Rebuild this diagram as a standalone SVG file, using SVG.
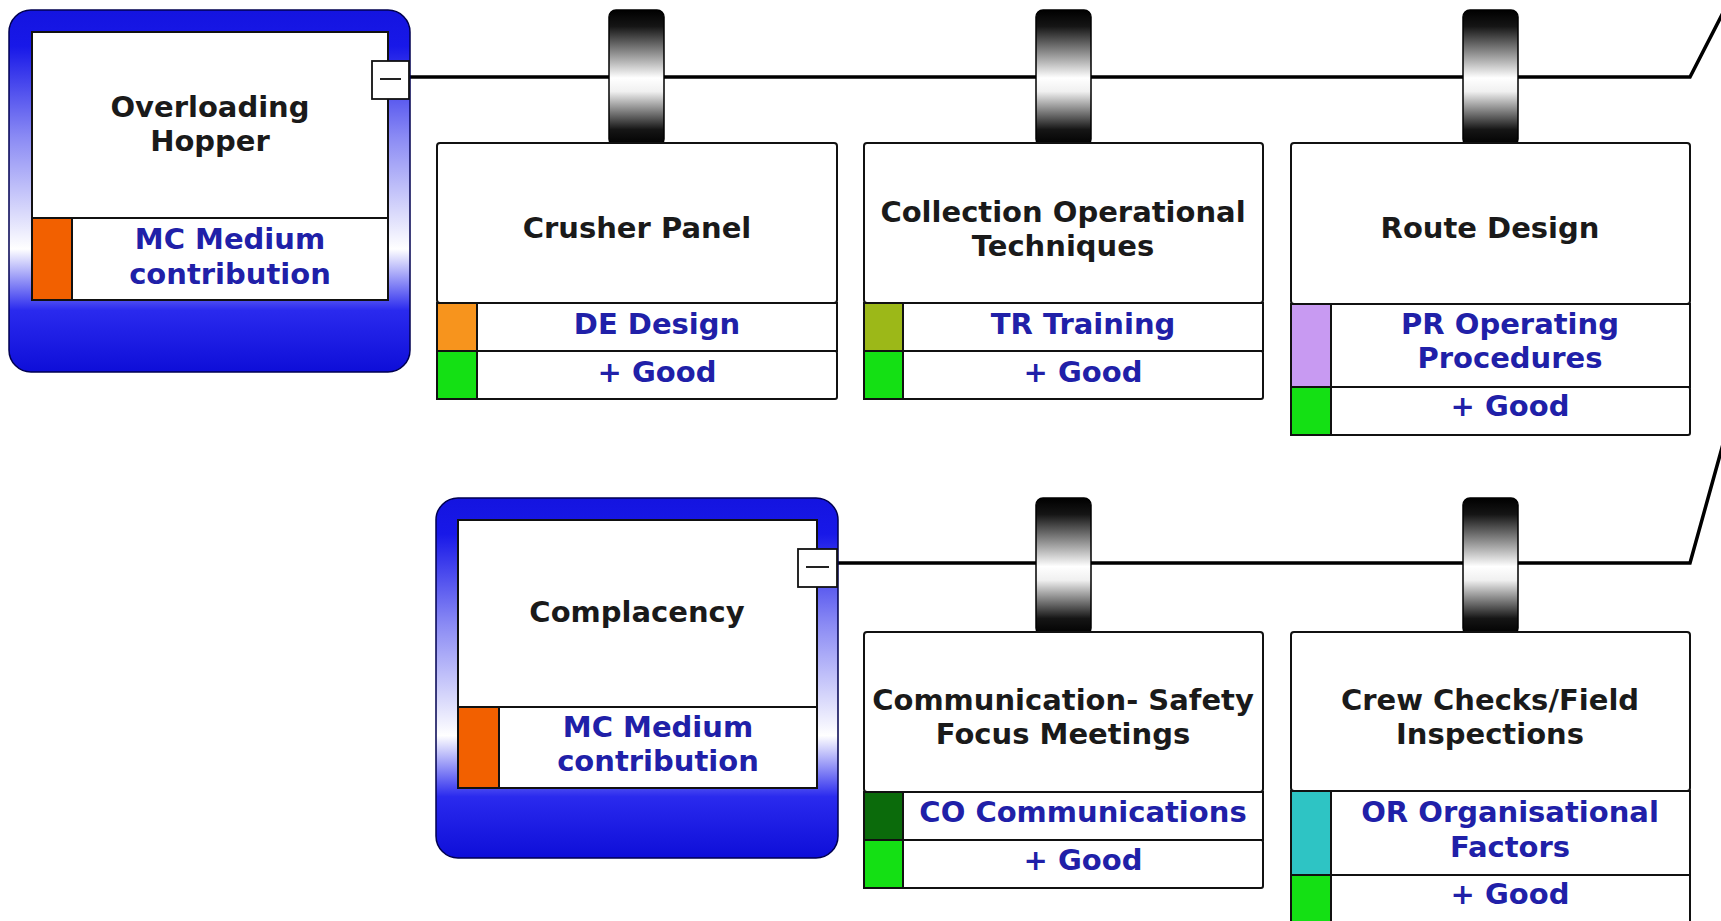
<svg xmlns="http://www.w3.org/2000/svg" width="1721" height="921" viewBox="0 0 1721 921">
<style>
text{font-family:"DejaVu Sans","Verdana",sans-serif;font-weight:bold;font-size:29px;text-anchor:middle}
.t{fill:#1a1a1a}
.b{fill:#2020a8}
.box{fill:#ffffff;stroke:#111;stroke-width:2}
.sq{stroke:#111;stroke-width:2}
.frame{fill:url(#blueg);stroke:#000050;stroke-width:1.5}
.cap{fill:url(#capg);stroke:#000;stroke-width:1.5}
.ln{fill:none;stroke:#000;stroke-width:3.5}
.minus{fill:#fff;stroke:#111;stroke-width:1.8}
</style>
<defs>
<linearGradient id="blueg" x1="0" y1="0" x2="0" y2="1">
<stop offset="0" stop-color="#1414e0"/>
<stop offset="0.1" stop-color="#1818e8"/>
<stop offset="0.35" stop-color="#8a8af4"/>
<stop offset="0.66" stop-color="#ffffff"/>
<stop offset="0.83" stop-color="#2a2aee"/>
<stop offset="1" stop-color="#0e0ed8"/>
</linearGradient>
<linearGradient id="capg" x1="0" y1="0" x2="0" y2="1">
<stop offset="0" stop-color="#000"/>
<stop offset="0.12" stop-color="#151515"/>
<stop offset="0.5" stop-color="#ffffff"/>
<stop offset="0.6" stop-color="#f0f0f0"/>
<stop offset="0.88" stop-color="#151515"/>
<stop offset="1" stop-color="#000"/>
</linearGradient>
</defs>
<rect width="1721" height="921" fill="#fff"/>
<g id="connectors">
<path class="ln" d="M409,77 L1690,77 L1730,-1"/>
<path class="ln" d="M837,563 L1690,563 L1730,419"/>
</g>
<g id="node-overloading-hopper">
<rect class="frame" x="9" y="10" width="401" height="362" rx="22"/>
<rect class="box" x="32" y="32" width="356" height="186"/>
<rect class="box" x="32" y="218" width="356" height="82"/>
<rect class="sq" x="32" y="218" width="40" height="82" fill="#f26000"/>
<text class="t" x="210" y="117">Overloading</text>
<text class="t" x="210" y="151">Hopper</text>
<text class="b" x="230" y="249">MC Medium</text>
<text class="b" x="230" y="284">contribution</text>
<rect class="minus" x="372" y="61" width="37" height="38"/>
<line x1="380" y1="79" x2="401" y2="79" stroke="#222" stroke-width="2"/>
</g>
<g id="node-crusher-panel">
<rect class="cap" x="609" y="10" width="55" height="136" rx="7"/>
<rect class="box" x="437" y="143" width="400" height="160" rx="3"/>
<rect class="box" x="437" y="303" width="400" height="48"/>
<rect class="box" x="437" y="351" width="400" height="48" rx="2"/>
<rect class="sq" x="437" y="303" width="40" height="48" fill="#f7941d"/>
<rect class="sq" x="437" y="351" width="40" height="48" fill="#14e014"/>
<text class="t" x="637" y="238">Crusher Panel</text>
<text class="b" x="657" y="334">DE Design</text>
<text class="b" x="657" y="382">+ Good</text>
</g>
<g id="node-collection-operational-techniques">
<rect class="cap" x="1036" y="10" width="55" height="136" rx="7"/>
<rect class="box" x="864" y="143" width="399" height="160" rx="3"/>
<rect class="box" x="864" y="303" width="399" height="48"/>
<rect class="box" x="864" y="351" width="399" height="48" rx="2"/>
<rect class="sq" x="864" y="303" width="39" height="48" fill="#9cb818"/>
<rect class="sq" x="864" y="351" width="39" height="48" fill="#14e014"/>
<text class="t" x="1063" y="222">Collection Operational</text>
<text class="t" x="1063" y="256">Techniques</text>
<text class="b" x="1083" y="334">TR Training</text>
<text class="b" x="1083" y="382">+ Good</text>
</g>
<g id="node-route-design">
<rect class="cap" x="1463" y="10" width="55" height="136" rx="7"/>
<rect class="box" x="1291" y="143" width="399" height="161" rx="3"/>
<rect class="box" x="1291" y="304" width="399" height="83"/>
<rect class="box" x="1291" y="387" width="399" height="48" rx="2"/>
<rect class="sq" x="1291" y="304" width="40" height="83" fill="#c89af2"/>
<rect class="sq" x="1291" y="387" width="40" height="48" fill="#14e014"/>
<text class="t" x="1490" y="238">Route Design</text>
<text class="b" x="1510" y="334">PR Operating</text>
<text class="b" x="1510" y="368">Procedures</text>
<text class="b" x="1510" y="416">+ Good</text>
</g>
<g id="node-complacency">
<rect class="frame" x="436" y="498" width="402" height="360" rx="22"/>
<rect class="box" x="458" y="520" width="359" height="187"/>
<rect class="box" x="458" y="707" width="359" height="81"/>
<rect class="sq" x="458" y="707" width="41" height="81" fill="#f26000"/>
<text class="t" x="637" y="622">Complacency</text>
<text class="b" x="658" y="737">MC Medium</text>
<text class="b" x="658" y="771">contribution</text>
<rect class="minus" x="798" y="549" width="39" height="38"/>
<line x1="806" y1="567" x2="829" y2="567" stroke="#222" stroke-width="2"/>
</g>
<g id="node-communication-safety-focus-meetings">
<rect class="cap" x="1036" y="498" width="55" height="137" rx="7"/>
<rect class="box" x="864" y="632" width="399" height="160" rx="3"/>
<rect class="box" x="864" y="792" width="399" height="48"/>
<rect class="box" x="864" y="840" width="399" height="48" rx="2"/>
<rect class="sq" x="864" y="792" width="39" height="48" fill="#0b6b0b"/>
<rect class="sq" x="864" y="840" width="39" height="48" fill="#14e014"/>
<text class="t" x="1063" y="710">Communication- Safety</text>
<text class="t" x="1063" y="744">Focus Meetings</text>
<text class="b" x="1083" y="822">CO Communications</text>
<text class="b" x="1083" y="870">+ Good</text>
</g>
<g id="node-crew-checks-field-inspections">
<rect class="cap" x="1463" y="498" width="55" height="137" rx="7"/>
<rect class="box" x="1291" y="632" width="399" height="159" rx="3"/>
<rect class="box" x="1291" y="791" width="399" height="84"/>
<rect class="box" x="1291" y="875" width="399" height="48"/>
<rect class="sq" x="1291" y="791" width="40" height="84" fill="#2ec4c4"/>
<rect class="sq" x="1291" y="875" width="40" height="48" fill="#14e014"/>
<text class="t" x="1490" y="710">Crew Checks/Field</text>
<text class="t" x="1490" y="744">Inspections</text>
<text class="b" x="1510" y="822">OR Organisational</text>
<text class="b" x="1510" y="857">Factors</text>
<text class="b" x="1510" y="904">+ Good</text>
</g>
</svg>
